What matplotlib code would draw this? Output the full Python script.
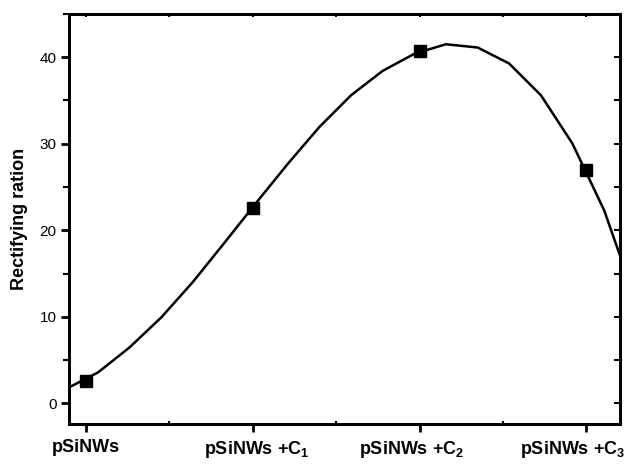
import numpy as np
import matplotlib
matplotlib.use("Agg")
import matplotlib.pyplot as plt
import matplotlib.transforms as mtransforms
from matplotlib.ticker import MultipleLocator

plt.rcParams['font.family'] = ['Liberation Sans', 'DejaVu Sans']
plt.rcParams['mathtext.default'] = 'regular'

# measured samples
samples = ['pSiNWs', 'pSiNWs +C$_1$', 'pSiNWs +C$_2$', 'pSiNWs +C$_3$']
ratio = [2.6, 22.6, 40.7, 27.0]

# smooth curve drawn through the samples
curve_x = [-0.116, 0.074, 0.263, 0.453, 0.642, 0.832, 1.021, 1.211, 1.400, 1.590,
           1.779, 1.969, 2.158, 2.348, 2.537, 2.727, 2.916, 3.106, 3.295]
curve_y = [1.68, 3.58, 6.47, 9.94, 14.03, 18.58, 23.17, 27.69, 31.94, 35.61,
           38.42, 40.40, 41.50, 41.12, 39.27, 35.61, 30.02, 22.31, 11.9]

fig = plt.figure(figsize=(6.28, 4.65), dpi=100)
ax = fig.add_axes([0.110, 0.088, 0.877, 0.882])

ax.plot(curve_x, curve_y, color='black', lw=1.8, zorder=2)
ax.plot(range(len(ratio)), ratio, linestyle='none', marker='s', ms=8,
        color='black', zorder=3)

ax.set_xlim(-0.1, 3.2)
ax.set_ylim(-2.4, 45)

ax.set_xticks(range(len(samples)))
ax.set_xticklabels(samples, fontweight='bold', fontsize=13)
ax.xaxis.set_minor_locator(MultipleLocator(0.5))
ax.yaxis.set_major_locator(MultipleLocator(10))
ax.yaxis.set_minor_locator(MultipleLocator(5))

for s in ax.spines.values():
    s.set_linewidth(2)

ax.tick_params(axis='x', which='major', direction='out', length=6, width=2, pad=5)
ax.tick_params(axis='x', which='minor', direction='in', length=2, width=1.5)
ax.tick_params(axis='y', which='major', direction='out', length=6, width=2,
               labelsize=11, pad=3)
ax.tick_params(axis='y', which='minor', direction='out', length=4, width=1.5)

# inner ticks on the right side
ax2 = ax.twinx()
ax2.set_ylim(ax.get_ylim())
ax2.yaxis.set_major_locator(MultipleLocator(5))
ax2.tick_params(axis='y', direction='in', length=4, width=1.5, labelright=False)

# inner ticks on the top side
ax3 = ax.twiny()
ax3.set_xlim(ax.get_xlim())
ax3.xaxis.set_major_locator(MultipleLocator(0.5))
ax3.tick_params(axis='x', direction='in', length=2, width=1.5, labeltop=False)
for a in (ax2, ax3):
    for s in a.spines.values():
        s.set_linewidth(2)

ax.set_ylabel('Rectifying ration', fontweight='bold', fontsize=13, labelpad=8)

# labels nudged sideways like the original (last one kept inside the figure)
shifts = [0, 4, -8, -14]
for tick, dx in zip(ax.xaxis.get_major_ticks(), shifts):
    lab = tick.label1
    lab.set_transform(lab.get_transform() +
                      mtransforms.ScaledTranslation(dx / 100, 0, fig.dpi_scale_trans))

fig.savefig('out.png', dpi=100)
